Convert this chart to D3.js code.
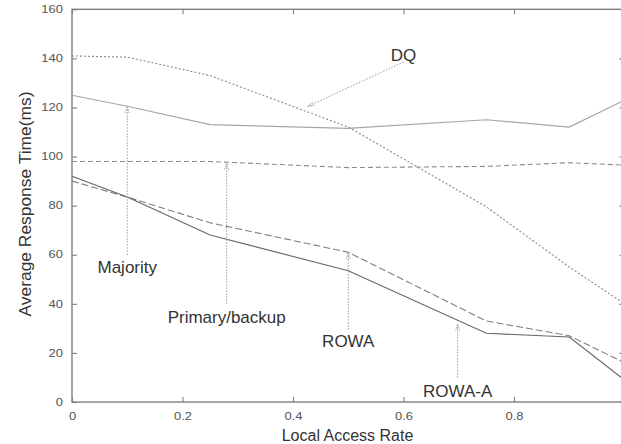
<!DOCTYPE html>
<html>
<head>
<meta charset="utf-8">
<script src="https://cdn.jsdelivr.net/npm/d3@7"></script>
<style>
  html, body { margin: 0; padding: 0; background: #fff; }
  svg { display: block; font-family: "Liberation Sans", Arial, Helvetica, sans-serif; }
</style>
</head>
<body>
<svg id="chart" width="621" height="444"></svg>
<script>
// Local access rate sampled for every protocol
const accessRates = [0, 0.1, 0.25, 0.5, 0.75, 0.9, 1.0];

// Average response time (ms) per protocol
const majority      = [125, 120.5, 113, 111.5, 115, 112, 123];
const dq            = [141, 140.5, 133, 112, 79.5, 55, 40];
const primaryBackup = [98, 98, 98, 95.5, 96, 97.5, 96.5];
const rowa          = [90, 83.5, 73, 61, 33, 27, 16];
const rowaA         = [92, 83.5, 68, 53.5, 28, 26.5, 9];

// Axis ticks (the last x tick sits on the page edge and is left unlabelled)
const xTicks = [0, 0.2, 0.4, 0.6, 0.8, 1];
const xTickLabels = ["0", "0.2", "0.4", "0.6", "0.8", ""];
const yTicks = [0, 20, 40, 60, 80, 100, 120, 140, 160];

const series = [
  { name: "Majority",       values: majority,      color: "#a6a6a6", dash: null },
  { name: "DQ",             values: dq,            color: "#8a8a8a", dash: "2,2" },
  { name: "Primary/backup", values: primaryBackup, color: "#8c8c8c", dash: "5,3" },
  { name: "ROWA",           values: rowa,          color: "#7e7e7e", dash: "7,3" },
  { name: "ROWA-A",         values: rowaA,         color: "#666666", dash: null }
];

// Callout labels: text anchor point and arrow (tail -> tip) in data units
const callouts = [
  { text: "Majority",       tx: 0.1,   ty: 52.6, from: [0.1, 60],    to: [0.1, 120.3] },
  { text: "Primary/backup", tx: 0.28,  ty: 32.2, from: [0.28, 40],   to: [0.28, 97.2] },
  { text: "ROWA",           tx: 0.5,   ty: 22.4, from: [0.5, 29.5],  to: [0.5, 60.8] },
  { text: "ROWA-A",         tx: 0.698, ty: 2,    from: [0.698, 10],  to: [0.698, 31.6] },
  { text: "DQ",             tx: 0.6,   ty: 139,  from: [0.6, 138.5], to: [0.427, 120.5] }
];

const svg = d3.select("#chart");
const plotL = 72, plotR = 624.5, plotT = 9.3, plotB = 402;

const x = d3.scaleLinear().domain([0, 1]).range([plotL, plotR]);
const y = d3.scaleLinear().domain([0, 160]).range([plotB, plotT]);

const axisColor = "#808080";

function styleAxis(g) {
  g.select(".domain").remove();
  g.selectAll(".tick line").attr("stroke", axisColor).attr("stroke-width", 1.1);
  g.selectAll(".tick text").attr("fill", "#555").attr("font-size", 10)
    .attr("font-family", "Liberation Sans, Arial, sans-serif");
}

// Bottom axis with labels, inward ticks
svg.append("g")
  .attr("transform", `translate(0,${plotB})`)
  .call(d3.axisBottom(x).tickValues(xTicks)
    .tickFormat((d, i) => xTickLabels[i]).tickSize(-5).tickPadding(11))
  .call(styleAxis)
  .call(g => g.selectAll(".tick text").attr("transform", "scale(1.3,1)"));

// Top axis, ticks only
svg.append("g")
  .attr("transform", `translate(0,${plotT})`)
  .call(d3.axisTop(x).tickValues(xTicks).tickFormat("").tickSize(-5))
  .call(styleAxis);

// Left axis with labels, inward ticks
svg.append("g")
  .attr("transform", `translate(${plotL},0)`)
  .call(d3.axisLeft(y).tickValues(yTicks).tickFormat(d3.format("d")).tickSize(-5))
  .call(styleAxis)
  .call(g => g.selectAll(".tick text").attr("x", -9 / 1.3).attr("transform", "scale(1.3,1)"));

// Right axis, ticks only
svg.append("g")
  .attr("transform", `translate(${plotR},0)`)
  .call(d3.axisRight(y).tickValues(yTicks).tickFormat("").tickSize(-5))
  .call(styleAxis);

// Plot frame
svg.append("rect")
  .attr("x", plotL).attr("y", plotT)
  .attr("width", plotR - plotL).attr("height", plotB - plotT)
  .attr("fill", "none").attr("stroke", axisColor).attr("stroke-width", 1.4);

// Series lines
const line = d3.line()
  .x((d, i) => x(accessRates[i]))
  .y(d => y(d));

svg.append("g").selectAll("path")
  .data(series)
  .join("path")
  .attr("d", s => line(s.values))
  .attr("fill", "none")
  .attr("stroke", s => s.color)
  .attr("stroke-width", 1.1)
  .attr("stroke-dasharray", s => s.dash);

// Callout arrows (dotted shaft + small open head)
const cg = svg.append("g");
callouts.forEach(c => {
  const x1 = x(c.from[0]), y1 = y(c.from[1]);
  const x2 = x(c.to[0]), y2 = y(c.to[1]);
  cg.append("line")
    .attr("x1", x1).attr("y1", y1).attr("x2", x2).attr("y2", y2)
    .attr("stroke", "#999").attr("stroke-width", 1)
    .attr("stroke-dasharray", "1.5,1.5");
  const ang = Math.atan2(y1 - y2, x1 - x2);
  const len = 7, spread = 0.3;
  [ang - spread, ang + spread].forEach(a => {
    cg.append("line")
      .attr("x1", x2).attr("y1", y2)
      .attr("x2", x2 + len * Math.cos(a)).attr("y2", y2 + len * Math.sin(a))
      .attr("stroke", "#999").attr("stroke-width", 0.9)
      .attr("stroke-dasharray", "1.5,1");
  });
  cg.append("text")
    .attr("x", x(c.tx)).attr("y", y(c.ty))
    .attr("text-anchor", "middle")
    .attr("font-size", 17)
    .attr("fill", "#333")
    .text(c.text);
});

// Axis titles
svg.append("text")
  .attr("x", 347.5).attr("y", 440.5)
  .attr("text-anchor", "middle")
  .attr("font-size", 16)
  .attr("fill", "#333")
  .text("Local Access Rate");

svg.append("text")
  .attr("transform", "translate(31,204) rotate(-90)")
  .attr("text-anchor", "middle")
  .attr("font-size", 17.4)
  .attr("fill", "#333")
  .text("Average Response Time(ms)");
</script>
</body>
</html>
